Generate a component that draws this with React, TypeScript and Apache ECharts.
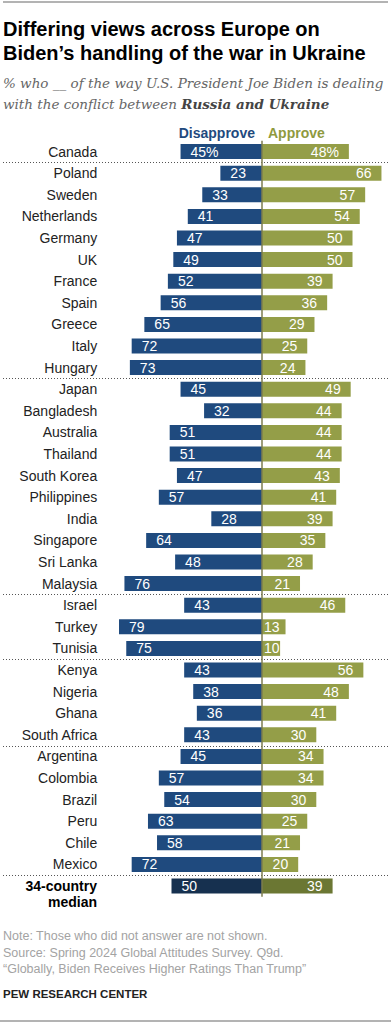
import React, { useEffect, useRef } from "react";
import * as echarts from "echarts";

const categories = [
  "Canada",
  "Poland", "Sweden", "Netherlands", "Germany", "UK", "France", "Spain", "Greece", "Italy", "Hungary",
  "Japan", "Bangladesh", "Australia", "Thailand", "South Korea", "Philippines", "India", "Singapore", "Sri Lanka", "Malaysia",
  "Israel", "Turkey", "Tunisia",
  "Kenya", "Nigeria", "Ghana", "South Africa",
  "Argentina", "Colombia", "Brazil", "Peru", "Chile", "Mexico",
  "34-country median",
];
const disapprove = [
  45,
  23, 33, 41, 47, 49, 52, 56, 65, 72, 73,
  45, 32, 51, 51, 47, 57, 28, 64, 48, 76,
  43, 79, 75,
  43, 38, 36, 43,
  45, 57, 54, 63, 58, 72,
  50,
];
const approve = [
  48,
  66, 57, 54, 50, 50, 39, 36, 29, 25, 24,
  49, 44, 44, 44, 43, 41, 39, 35, 28, 21,
  46, 13, 10,
  56, 48, 41, 30,
  34, 34, 30, 25, 21, 20,
  39,
];
const separatorsAfter = [0, 10, 20, 23, 27, 33];
const medianName = "34-country median";
const medianLines = ["34-country", "median"];

const FONT = "Liberation Sans";
const BLUE = "#1f4a7e";
const BLUE_MED = "#16304f";
const OLIVE = "#949e48";
const OLIVE_MED = "#6b7733";

export default function App() {
  const ref = useRef<HTMLDivElement>(null);
  useEffect(() => {
    document.body.style.margin = "0";
    const chart = echarts.init(ref.current!, null, { renderer: "svg" });
    const last = categories.length - 1;
    const valueLabel = (p: any) => Math.abs(p.value) + (p.dataIndex === 0 ? "%" : "");
    const option: any = {
      animation: false,
      grid: { left: 117.2, right: 2.3, top: 140.8, height: 756, containLabel: false },
      xAxis: {
        type: "value", min: -80, max: 70, show: false,
      },
      yAxis: {
        type: "category",
        inverse: true,
        data: categories,
        axisLine: { show: false },
        axisTick: { show: false },
        axisLabel: {
          interval: 0,
          margin: 20,
          fontSize: 14,
          fontFamily: FONT,
          color: "#222",
          formatter: (v: string) => (v === medianName ? "" : v),
        },
      },
      series: [
        {
          name: "Disapprove",
          type: "bar",
          barWidth: 15,
          barGap: "-100%",
          data: disapprove.map((v, i) => ({
            value: -v,
            itemStyle: { color: i === last ? BLUE_MED : BLUE },
          })),
          label: {
            show: true,
            position: "insideLeft",
            distance: 10,
            color: "#fff",
            fontSize: 14,
            fontFamily: FONT,
            formatter: valueLabel,
          },
        },
        {
          name: "Approve",
          type: "bar",
          barWidth: 15,
          barGap: "-100%",
          data: approve.map((v, i) => ({
            value: v,
            itemStyle: { color: i === last ? OLIVE_MED : OLIVE },
            label: v < 15 ? { position: "insideLeft", distance: 2 } : undefined,
          })),
          label: {
            show: true,
            position: "insideRight",
            distance: 10,
            color: "#fff",
            fontSize: 14,
            fontFamily: FONT,
            formatter: valueLabel,
          },
          markLine: {
            silent: true,
            symbol: "none",
            label: { show: false },
            lineStyle: { color: "#7d7d4f", width: 1.5, type: "solid" },
            data: [{ xAxis: 0 }],
          },
        },
      ],
    };
    chart.setOption(option);

    const rowY = (name: string) => chart.convertToPixel({ yAxisIndex: 0 }, name) as number;
    const seps = separatorsAfter.map((i) => {
      const y1 = rowY(categories[i]);
      const y2 = rowY(categories[i + 1]);
      return Math.round((y1 + y2) / 2) + 0.5;
    });
    const medY = rowY(medianName);

    const txt = (x: number, y: number, text: string, extra: any = {}) => ({
      type: "text",
      x,
      y,
      style: {
        text,
        fontFamily: FONT,
        fontSize: 14,
        fill: "#222",
        textVerticalAlign: "middle",
        verticalAlign: "middle",
        ...extra,
      },
    });

    const graphics: any[] = [
      { type: "rect", shape: { x: 3, y: 1, width: 385, height: 2 }, style: { fill: "#b3b3b3" } },
      { type: "rect", shape: { x: 0, y: 1020, width: 391, height: 2 }, style: { fill: "#b3b3b3" } },
      txt(3, 29, "Differing views across Europe on", { fontSize: 20, fontWeight: "bold", fill: "#000" }),
      txt(3, 53, "Biden\u2019s handling of the war in Ukraine", { fontSize: 20, fontWeight: "bold", fill: "#000" }),
      txt(3, 83, "% who __ of the way U.S. President Joe Biden is dealing", {
        fontFamily: "DejaVu Serif", fontStyle: "italic", fontSize: 13.5, fill: "#666",
      }),
      {
        type: "text",
        x: 3,
        y: 104,
        style: {
          text: "with the conflict between {b|Russia and Ukraine}",
          fontFamily: "DejaVu Serif",
          fontStyle: "italic",
          fontSize: 13.5,
          fill: "#666",
          verticalAlign: "middle",
          rich: {
            b: { fontFamily: "DejaVu Serif", fontStyle: "italic", fontWeight: "bold", fontSize: 13.5, fill: "#444", color: "#444" },
          },
        },
      },
      txt(255, 133, "Disapprove", { fontWeight: "bold", fill: BLUE, align: "right", textAlign: "right" }),
      txt(268, 133, "Approve", { fontWeight: "bold", fill: "#8f9a3e" }),
      ...medianLines.map((t, k) =>
        txt(97, medY + k * 16, t, { fontWeight: "bold", fill: "#000", align: "right", textAlign: "right" })
      ),
      txt(3, 936, "Note: Those who did not answer are not shown.", { fontSize: 12.5, fill: "#a3a3a3" }),
      txt(3, 952.7, "Source: Spring 2024 Global Attitudes Survey. Q9d.", { fontSize: 12.5, fill: "#a3a3a3" }),
      txt(3, 969, "\u201cGlobally, Biden Receives Higher Ratings Than Trump\u201d", { fontSize: 12.5, fill: "#a3a3a3" }),
      txt(3, 994, "PEW RESEARCH CENTER", { fontSize: 11.5, fontWeight: "bold", fill: "#222" }),
      ...seps.map((y) => ({
        type: "line",
        shape: { x1: 3, y1: y, x2: 388, y2: y },
        style: { stroke: "#555", lineWidth: 1, lineDash: [1, 2] },
      })),
    ];
    chart.setOption({ graphic: graphics });
    return () => chart.dispose();
  }, []);
  return <div ref={ref} style={{ width: 391, height: 1024 }} />;
}
